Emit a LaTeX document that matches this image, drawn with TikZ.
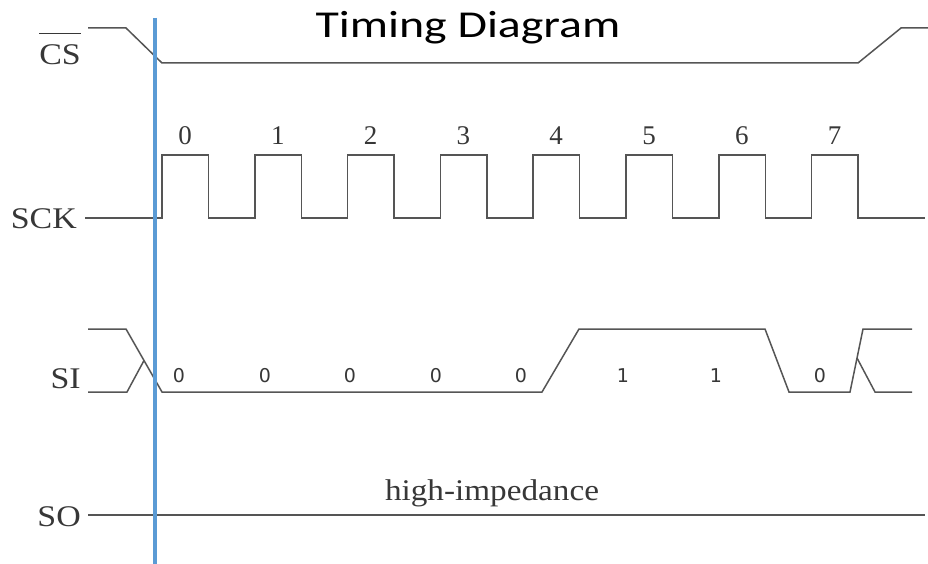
\documentclass[tikz,border=0pt]{standalone}
\usepackage{fontspec}
\setmainfont{Liberation Serif}
\newfontfamily\titlefont{Carlito}
\newfontfamily\bitfont{DejaVu Sans}
\definecolor{wire}{RGB}{85,85,85}
\definecolor{inkgray}{RGB}{55,55,55}
\definecolor{markerblue}{RGB}{91,155,213}

\begin{document}
\begin{tikzpicture}[x=1pt, y=-1pt,
    wave/.style={draw=wire, line width=1.5pt, line join=miter},
    signame/.style={anchor=base east, inner sep=0pt, text=inkgray, xscale=1.13, transform shape, font=\fontsize{30}{30}\selectfont},
    clknum/.style={inner sep=0pt, text=inkgray, font=\fontsize{27}{27}\selectfont},
    bitval/.style={inner sep=0pt, text=inkgray, font=\bitfont\fontsize{19}{19}\selectfont}]
    \useasboundingbox (0,0) rectangle (928,564);

    % Title
    \node[font=\titlefont\fontsize{38}{38}\selectfont, anchor=base, xscale=1.26, transform shape] (title) at (468,38) {Timing Diagram};

    % Signal names
    \node[signame] (cslabel) at (81,65) {$\overline{\hbox{CS}\rule{0pt}{30pt}}$};
    \node[signame] (scklabel) at (77,228) {SCK};
    \node[signame] (silabel) at (81,388) {SI};
    \node[signame] (solabel) at (81,526) {SO};

    % CS line
    \draw[wave] (88,28) -- (126,28) -- (162,63) -- (858,63) -- (901,28) -- (928,28);

    % SCK clock, eight pulses
    \draw[wave] (85,218) foreach \i in {0,...,7} {
        -- ({162+92.8*\i},218) -- ({162+92.8*\i},155) -- ({208.5+92.8*\i},155) -- ({208.5+92.8*\i},218)
    } -- (925,218);
    \foreach \i in {0,...,7}
        \node[clknum] (clk\i) at ({185+92.8*\i},136) {\i};

    % SI data
    \draw[wave] (88,329) -- (126,329) -- (162,392) -- (542,392) -- (579,329) -- (765,329)
        -- (789,392) -- (850,392) -- (863,329) -- (912,329);
    \draw[wave] (88,392) -- (127,392) -- (144,360.5);
    \draw[wave] (857,358) -- (875,392) -- (912,392);
    \foreach \x/\b [count=\k] in {179/0, 265/0, 350/0, 436/0, 521/0, 623/1, 716/1, 820/0}
        \node[bitval] (bit\k) at (\x,376) {\b};

    % SO line
    \draw[wave] (88,515) -- (925,515);
    \node[signame, anchor=base, xscale=0.98] (hiz) at (492,500) {high-impedance};

    % Marker
    \draw[markerblue, line width=4.5pt] (155,18) -- (155,564);
\end{tikzpicture}
\end{document}
